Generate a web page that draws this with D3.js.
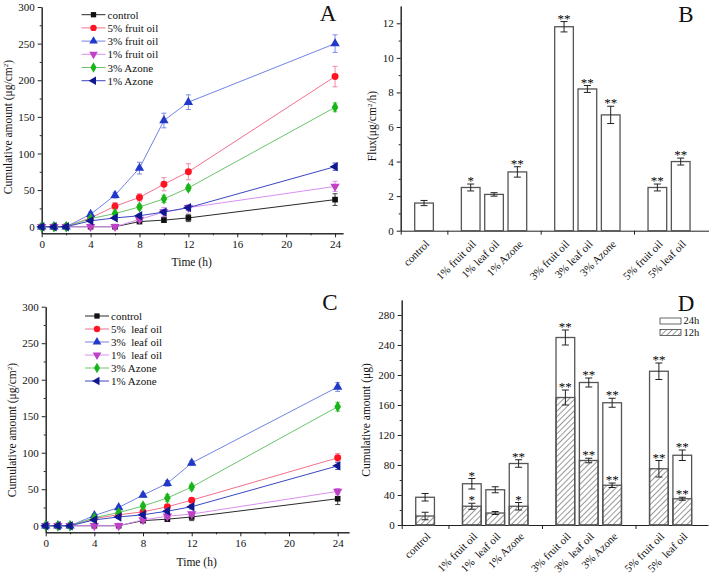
<!DOCTYPE html>
<html lang="en">
<head>
<meta charset="utf-8">
<script src="https://d3js.org/d3.v7.min.js"></script>
<style>
body { margin: 0; background: #fff; }
text { font-family: "Liberation Serif", "Times New Roman", serif; fill: #111; }
.sig { opacity: 0.99; }
</style>
</head>
<body>
<div id="fig"></div>
<script>
// sampling times (h)
var times = [0, 1, 2, 4, 6, 8, 10, 12, 24];

// panel A : fruit oil
var namesA = ["control", "5% fruit oil", "3% fruit oil", "1% fruit oil", "3% Azone", "1% Azone"];
var controlVal = [0, 0, 0, 0, 0, 7, 9, 12, 37];
var controlErr = [0, 0, 0, 0, 0, 2, 3, 5, 8];
var fruit5Val = [0, 0, 0, 12, 28, 40, 58, 75, 205];
var fruit5Err = [0, 0, 0, 2, 5, 5, 9, 11, 14];
var fruit3Val = [0, 0, 0, 17, 43, 80, 145, 170, 250];
var fruit3Err = [0, 0, 0, 3, 4, 8, 10, 10, 12];
var fruit1Val = [0, 0, 0, 0, 0, 10, 20, 26, 55];
var fruit1Err = [0, 0, 0, 0, 0, 2, 6, 4, 7];
var azone3Val = [0, 0, 0, 11, 18, 27, 38, 53, 163];
var azone3Err = [0, 0, 0, 2, 2, 3, 5, 4, 6];
var azone1Val = [0, 0, 0, 8, 12, 15, 20, 26, 82];
var azone1Err = [0, 0, 0, 1, 2, 2, 3, 3, 5];

// panel C : leaf oil
var namesC = ["control", "5%  leaf oil", "3%  leaf oil", "1%  leaf oil", "3% Azone", "1% Azone"];
var leaf5Val = [0, 0, 0, 10, 15, 19, 26, 35, 93];
var leaf5Err = [0, 0, 0, 2, 2, 2, 3, 3, 6];
var leaf3Val = [0, 0, 0, 14, 25, 42, 58, 86, 190];
var leaf3Err = [0, 0, 0, 2, 2, 3, 4, 3, 6];
var leaf1Val = [0, 0, 0, 0, 0, 8, 13, 16, 47];
var leaf1Err = [0, 0, 0, 0, 0, 2, 3, 3, 4];

// panel B : flux
var barCats = ["control", "1% fruit oil", "1% leaf oil", "1% Azone", "3% fruit oil", "3% leaf oil", "3% Azone", "5% fruit oil", "5% leaf oil"];
var barGroup = [0, 1, 1, 1, 2, 2, 2, 3, 3];
var flux = [1.6, 2.5, 2.1, 3.4, 11.8, 8.2, 6.7, 2.5, 4.0];
var fluxErr = [0.15, 0.2, 0.1, 0.3, 0.3, 0.2, 0.5, 0.2, 0.2];
var fluxSig = ["", "*", "", "**", "**", "**", "**", "**", "**"];

// panel D : cumulative amount at 12 h and 24 h
var barCatsD = ["control", "1% fruit oil", "1%  leaf oil", "1% Azone", "3% fruit oil", "3%  leaf oil", "3% Azone", "5% fruit oil", "5%  leaf oil"];
var amt24 = [37, 55, 47, 82, 250, 190, 163, 205, 93];
var amt24Err = [5, 7, 4, 5, 10, 6, 6, 11, 7];
var sig24 = ["", "*", "", "**", "**", "**", "**", "**", "**"];
var amt12 = [12, 25, 16, 25, 170, 86, 53, 75, 35];
var amt12Err = [5, 4, 2, 5, 10, 3, 3, 11, 2];
var sig12 = ["", "*", "", "*", "**", "**", "**", "**", "**"];

// series styles (same order in A and C)
var styles = [
  {line: "#2a2a2a", mark: "#111111", err: "#444444", sym: d3.symbolSquare, rot: 0},
  {line: "#f2708c", mark: "#ff1424", err: "#f388a4", sym: d3.symbolCircle, rot: 0},
  {line: "#7282e6", mark: "#2238c8", err: "#7d8ce8", sym: d3.symbolTriangle, rot: 0},
  {line: "#d890f0", mark: "#c040c8", err: "#d890f0", sym: d3.symbolTriangle, rot: 180},
  {line: "#6cc46c", mark: "#18b418", err: "#70d070", sym: d3.symbolDiamond, rot: 0},
  {line: "#3a48c0", mark: "#101890", err: "#4a58c8", sym: d3.symbolTriangle, rot: -90}
];

var W = 709, H = 573;
var svg = d3.select("#fig").append("svg").attr("width", W).attr("height", H);

var defs = svg.append("defs");
defs.append("pattern")
    .attr("id", "hatch")
    .attr("patternUnits", "userSpaceOnUse")
    .attr("width", 4).attr("height", 4)
    .attr("patternTransform", "rotate(45)")
  .append("line")
    .attr("x1", 0).attr("y1", 0).attr("x2", 0).attr("y2", 4)
    .attr("stroke", "#333").attr("stroke-width", 1);

function styleAxis(g) {
  g.attr("font-family", null).attr("font-size", null);
  g.selectAll("path, line").attr("stroke", "#222").attr("stroke-width", 1);
  g.selectAll("text").style("font-size", "11px").attr("fill", "#111");
}

function yLabel(x, y, parts) {
  var t = svg.append("text")
      .attr("transform", "translate(" + x + "," + y + ") rotate(-90)")
      .attr("text-anchor", "middle")
      .style("font-size", "11.5px");
  parts.forEach(function(p) {
    var s = t.append("tspan").text(p.t);
    if (p.sup) s.attr("baseline-shift", "super").style("font-size", "7px");
  });
}

function panelLetter(x, y, s) {
  svg.append("text").attr("x", x).attr("y", y)
     .attr("text-anchor", "middle")
     .style("font-size", "23px")
     .text(s);
}

function linePanel(cfg) {
  var x = d3.scaleLinear().domain(cfg.xDom).range(cfg.xRange);
  var y = d3.scaleLinear().domain(cfg.yDom).range(cfg.yRange);
  var g = svg.append("g");
  var baseY = y(cfg.yDom[0]);

  // axes
  g.append("g").attr("transform", "translate(0," + baseY + ")")
    .call(d3.axisBottom(x).tickValues([0, 4, 8, 12, 16, 20, 24]).tickSize(4).tickSizeOuter(0))
    .call(styleAxis);
  g.append("g").attr("transform", "translate(0," + baseY + ")")
    .call(d3.axisBottom(x).tickValues([2, 6, 10, 14, 18, 22]).tickSize(2).tickSizeOuter(0).tickFormat(""))
    .call(styleAxis);
  g.append("g").attr("transform", "translate(" + x(0) + ",0)")
    .call(d3.axisLeft(y).tickValues([0, 50, 100, 150, 200, 250, 300]).tickSize(4).tickSizeOuter(0))
    .call(styleAxis);
  g.append("g").attr("transform", "translate(" + x(0) + ",0)")
    .call(d3.axisLeft(y).tickValues([25, 75, 125, 175, 225, 275]).tickSize(2).tickSizeOuter(0).tickFormat(""))
    .call(styleAxis);

  var line = d3.line().x(function(d) { return x(d.t); }).y(function(d) { return y(d.v); });

  cfg.series.forEach(function(s, i) {
    var st = styles[i];
    var pts = times.map(function(t, k) { return {t: t, v: s.val[k], e: s.err[k]}; });
    var sg = g.append("g");
    var eb = sg.selectAll(".eb").data(pts.filter(function(d) { return d.e > 0; })).enter().append("g");
    eb.append("line").attr("x1", function(d) { return x(d.t); }).attr("x2", function(d) { return x(d.t); })
      .attr("y1", function(d) { return y(d.v - d.e); }).attr("y2", function(d) { return y(d.v + d.e); });
    eb.append("line").attr("x1", function(d) { return x(d.t) - 2.5; }).attr("x2", function(d) { return x(d.t) + 2.5; })
      .attr("y1", function(d) { return y(d.v + d.e); }).attr("y2", function(d) { return y(d.v + d.e); });
    eb.append("line").attr("x1", function(d) { return x(d.t) - 2.5; }).attr("x2", function(d) { return x(d.t) + 2.5; })
      .attr("y1", function(d) { return y(d.v - d.e); }).attr("y2", function(d) { return y(d.v - d.e); });
    eb.selectAll("line").attr("stroke", st.err).attr("stroke-width", 1);

    sg.append("path").datum(pts).attr("d", line)
      .attr("fill", "none").attr("stroke", st.line).attr("stroke-width", 1);

    sg.selectAll(".pt").data(pts).enter().append("path")
      .attr("d", d3.symbol().type(st.sym).size(st.sym === d3.symbolSquare ? 32 : 38))
      .attr("transform", function(d) { return "translate(" + x(d.t) + "," + y(d.v) + ") rotate(" + st.rot + ")"; })
      .attr("fill", st.mark);

    // legend row
    var ly = cfg.legY + i * cfg.legStep;
    g.append("line").attr("x1", cfg.legX).attr("x2", cfg.legX + 24).attr("y1", ly).attr("y2", ly)
      .attr("stroke", st.line).attr("stroke-width", 1);
    g.append("path").attr("d", d3.symbol().type(st.sym).size(st.sym === d3.symbolSquare ? 28 : 32))
      .attr("transform", "translate(" + (cfg.legX + 12) + "," + ly + ") rotate(" + st.rot + ")")
      .attr("fill", st.mark);
    g.append("text").attr("x", cfg.legX + 26).attr("y", ly + 4)
      .style("font-size", "11px").style("white-space", "pre")
      .text(cfg.names[i]);
  });

  g.append("text").attr("x", cfg.timeX).attr("y", cfg.timeY)
    .attr("text-anchor", "middle").style("font-size", "11.5px").text("Time (h)");
}

function barPanel(cfg) {
  var x = d3.scaleLinear().domain(cfg.xDom).range(cfg.xRange);
  var y = d3.scaleLinear().domain(cfg.yDom).range(cfg.yRange);
  var g = svg.append("g");
  var baseY = y(0);
  var bw = x(0.8) - x(0);
  var slot = function(i) { return i + 1 + barGroup[i]; };

  g.append("g").attr("transform", "translate(0," + baseY + ")")
    .call(d3.axisBottom(x).tickValues([0, 2, 6, 10]).tickSize(4).tickSizeOuter(0).tickFormat(""))
    .call(styleAxis);
  g.append("g").attr("transform", "translate(" + x(0) + ",0)")
    .call(d3.axisLeft(y).tickValues(cfg.major).tickSize(4).tickSizeOuter(0))
    .call(styleAxis);
  g.append("g").attr("transform", "translate(" + x(0) + ",0)")
    .call(d3.axisLeft(y).tickValues(cfg.minor).tickSize(2).tickSizeOuter(0).tickFormat(""))
    .call(styleAxis);

  cfg.layers.forEach(function(L) {
    var bars = g.append("g");
    L.val.forEach(function(v, i) {
      var cx = x(slot(i));
      bars.append("rect").attr("x", cx - bw / 2).attr("y", y(v))
        .attr("width", bw).attr("height", baseY - y(v))
        .attr("fill", L.fill).attr("stroke", "#555").attr("stroke-width", 1.3);
    });
  });
  var eg = g.append("g").attr("stroke", "#222").attr("stroke-width", 1);
  cfg.layers.forEach(function(L) {
    L.val.forEach(function(v, i) {
      var cx = x(slot(i)), e = L.err[i];
      var top = y(v + e), bot = y(v - e);
      eg.append("line").attr("x1", cx).attr("x2", cx).attr("y1", top).attr("y2", bot);
      eg.append("line").attr("x1", cx - 3.5).attr("x2", cx + 3.5).attr("y1", top).attr("y2", top);
      eg.append("line").attr("x1", cx - 3.5).attr("x2", cx + 3.5).attr("y1", bot).attr("y2", bot);
      if (L.sig[i]) {
        g.append("text").attr("class", "sig").attr("x", cx).attr("y", top + 1)
          .attr("text-anchor", "middle").style("font-size", "13px").style("fill", "#000")
          .text(L.sig[i]);
      }
    });
  });

  cfg.cats.forEach(function(c, i) {
    var cx = x(slot(i));
    g.append("text")
      .attr("transform", "translate(" + (cx + 6) + "," + (baseY + cfg.labOff) + ") rotate(-45)")
      .attr("text-anchor", "end").style("font-size", "11px").style("white-space", "pre")
      .text(c);
  });
}

// ---- panel A
linePanel({
  xDom: [0, 24.65], xRange: [41.7, 343],
  yDom: [-9, 300], yRange: [233.3, 7],
  names: namesA,
  series: [
    {val: controlVal, err: controlErr}, {val: fruit5Val, err: fruit5Err},
    {val: fruit3Val, err: fruit3Err}, {val: fruit1Val, err: fruit1Err},
    {val: azone3Val, err: azone3Err}, {val: azone1Val, err: azone1Err}
  ],
  legX: 81.5, legY: 14.7, legStep: 13.2,
  timeX: 191.7, timeY: 266
});
yLabel(12, 127, [{t: "Cumulative amount (μg/cm"}, {t: "2", sup: true}, {t: ")"}]);
panelLetter(328, 21, "A");

// ---- panel C
linePanel({
  xDom: [0, 24.93], xRange: [45.7, 349],
  yDom: [-9, 300], yRange: [532.3, 306.7],
  names: namesC,
  series: [
    {val: controlVal, err: controlErr}, {val: leaf5Val, err: leaf5Err},
    {val: leaf3Val, err: leaf3Err}, {val: leaf1Val, err: leaf1Err},
    {val: azone3Val, err: azone3Err}, {val: azone1Val, err: azone1Err}
  ],
  legX: 85, legY: 316, legStep: 13,
  timeX: 196.7, timeY: 565.5
});
yLabel(16, 430, [{t: "Cumulative amount (μg/cm"}, {t: "2", sup: true}, {t: ")"}]);
panelLetter(330, 310, "C");

// ---- panel B
barPanel({
  xDom: [0, 13.2], xRange: [400.7, 708.7],
  yDom: [0, 13], yRange: [230.7, 6],
  major: [0, 2, 4, 6, 8, 10, 12], minor: [1, 3, 5, 7, 9, 11],
  cats: barCats, labOff: 14,
  layers: [{val: flux, err: fluxErr, sig: fluxSig, fill: "#fff"}]
});
yLabel(376, 126, [{t: "Flux(μg/cm"}, {t: "2", sup: true}, {t: "/h)"}]);
panelLetter(686, 22, "B");

// ---- panel D
barPanel({
  xDom: [0, 13.1], xRange: [401.7, 708],
  yDom: [0, 300], yRange: [525, 300],
  major: [0, 40, 80, 120, 160, 200, 240, 280], minor: [20, 60, 100, 140, 180, 220, 260],
  cats: barCatsD, labOff: 12,
  layers: [
    {val: amt24, err: amt24Err, sig: sig24, fill: "#fff"},
    {val: amt12, err: amt12Err, sig: sig12, fill: "url(#hatch)"}
  ]
});
yLabel(370, 420, [{t: "Cumulative amount (μg)"}]);
panelLetter(686, 311, "D");

// legend D
[["24h", "#fff"], ["12h", "url(#hatch)"]].forEach(function(d, i) {
  var ly = 318 + i * 11.5;
  svg.append("rect").attr("x", 660).attr("y", ly).attr("width", 21).attr("height", 6)
    .attr("fill", d[1]).attr("stroke", "#444").attr("stroke-width", 0.8);
  svg.append("text").attr("x", 683.5).attr("y", ly + 6).style("font-size", "10.5px").text(d[0]);
});
</script>
</body>
</html>
